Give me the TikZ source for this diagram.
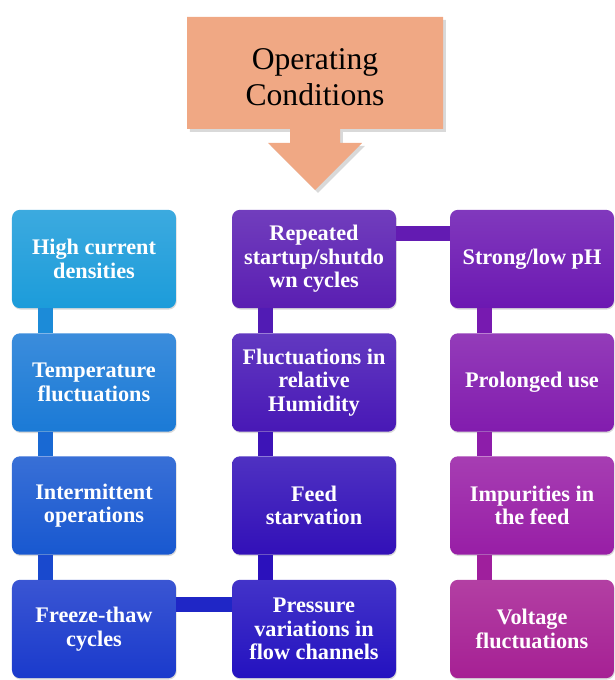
\documentclass[tikz,border=0pt]{standalone}
\usepackage{fontspec}
\setmainfont{Liberation Serif}
\usetikzlibrary{shadows}

\definecolor{calloutfill}{HTML}{F0A884}
\definecolor{cA}{HTML}{1C9CDA}
\definecolor{cB}{HTML}{1B7AD6}
\definecolor{cC}{HTML}{1858D0}
\definecolor{cD}{HTML}{1A3ACC}
\definecolor{cE}{HTML}{2412C0}
\definecolor{cF}{HTML}{3210B8}
\definecolor{cG}{HTML}{4818B6}
\definecolor{cH}{HTML}{5A1EB2}
\definecolor{cI}{HTML}{6C18B2}
\definecolor{cJ}{HTML}{821CAE}
\definecolor{cK}{HTML}{981EA6}
\definecolor{cL}{HTML}{A62094}

\tikzset{
	cond/.style={rectangle, rounded corners=0.24cm, minimum width=4.92cm, minimum height=2.95cm,
		text=white, align=center, font=\fontsize{19}{20}\selectfont\bfseries,
		top color=#1!86!white, bottom color=#1,
		drop shadow={opacity=0.3, shadow xshift=0.6pt, shadow yshift=-1.2pt}},
	link/.style={line width=0.45cm, #1}
}

\begin{document}
\begin{tikzpicture}[x=0.03cm,y=-0.03cm]
	\useasboundingbox (0,0) rectangle (614,680);

	% Callout
	\fill[calloutfill, drop shadow={opacity=0.3, shadow xshift=2.5pt, shadow yshift=-2.5pt}]
		(187,17) -- (443,17) -- (443,129) -- (340,129) -- (340,143) -- (362,143) -- (315,190)
		-- (268,143) -- (290,143) -- (290,129) -- (187,129) -- cycle;
	\node[font=\fontsize{27}{31}\selectfont, align=center] (title) at (315,77) {Operating\\Conditions};

	% Left column
	\node[cond=cA] (a1) at (94,259) {High current\\densities};
	\node[cond=cB] (a2) at (94,382.5) {Temperature\\fluctuations};
	\node[cond=cC] (a3) at (94,505.5) {Intermittent\\operations};
	\node[cond=cD] (a4) at (94,629) {Freeze-thaw\\cycles};

	% Middle column
	\node[cond=cH] (b1) at (314,259) {Repeated\\startup/shutdo\\wn cycles};
	\node[cond=cG] (b2) at (314,382.5) {Fluctuations in\\relative\\Humidity};
	\node[cond=cF] (b3) at (314,505.5) {Feed\\starvation};
	\node[cond=cE] (b4) at (314,629) {Pressure\\variations in\\flow channels};

	% Right column
	\node[cond=cI] (c1) at (532,259) {Strong/low pH};
	\node[cond=cJ] (c2) at (532,382.5) {Prolonged use};
	\node[cond=cK] (c3) at (532,505.5) {Impurities in\\the feed};
	\node[cond=cL] (c4) at (532,629) {Voltage\\fluctuations};

	% Links
	\draw[link=cA!50!cB] ([xshift=1cm]a1.south west) -- ([xshift=1cm]a2.north west);
	\draw[link=cB!50!cC] ([xshift=1cm]a2.south west) -- ([xshift=1cm]a3.north west);
	\draw[link=cC!50!cD] ([xshift=1cm]a3.south west) -- ([xshift=1cm]a4.north west);
	\draw[link=cD!50!cE] ([yshift=-0.75cm]a4.north east) -- ([yshift=-0.75cm]b4.north west);
	\draw[link=cE!50!cF] ([xshift=1cm]b4.north west) -- ([xshift=1cm]b3.south west);
	\draw[link=cF!50!cG] ([xshift=1cm]b3.north west) -- ([xshift=1cm]b2.south west);
	\draw[link=cG!50!cH] ([xshift=1cm]b2.north west) -- ([xshift=1cm]b1.south west);
	\draw[link=cH!50!cI] ([yshift=-0.72cm]b1.north east) -- ([yshift=-0.72cm]c1.north west);
	\draw[link=cI!50!cJ] ([xshift=1.05cm]c1.south west) -- ([xshift=1.05cm]c2.north west);
	\draw[link=cJ!50!cK] ([xshift=1.05cm]c2.south west) -- ([xshift=1.05cm]c3.north west);
	\draw[link=cK!50!cL] ([xshift=1.05cm]c3.south west) -- ([xshift=1.05cm]c4.north west);
\end{tikzpicture}
\end{document}
